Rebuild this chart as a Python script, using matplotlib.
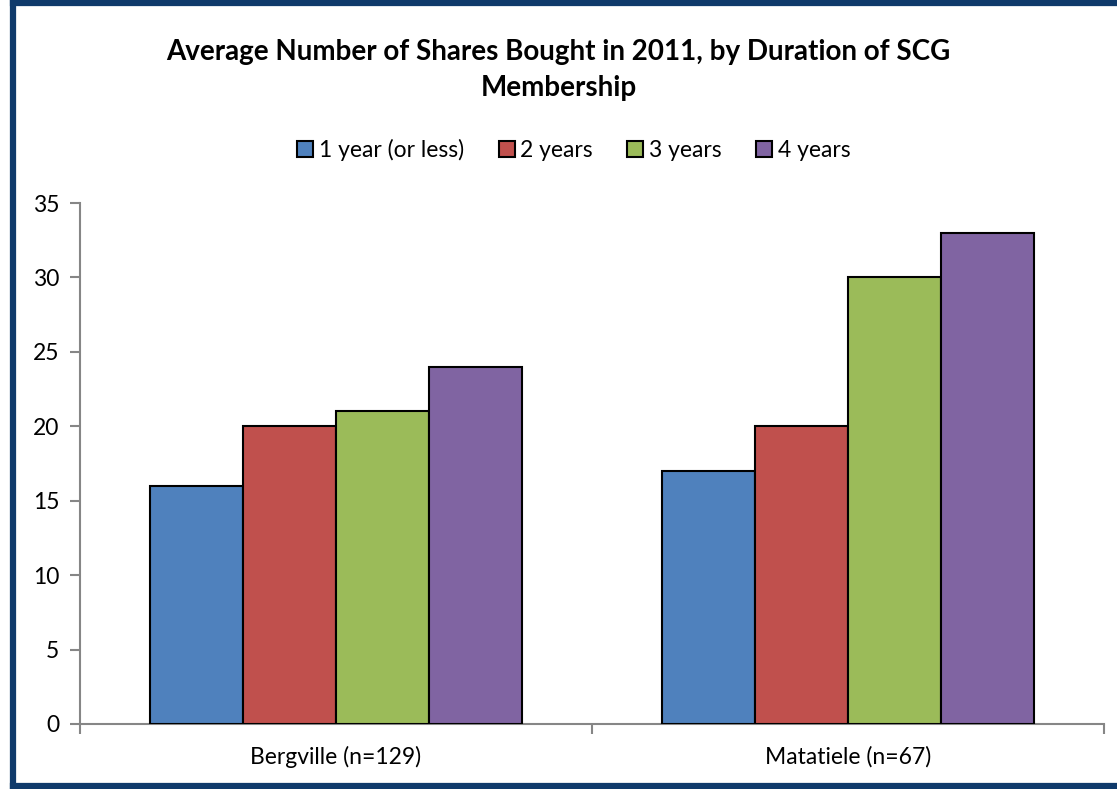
import numpy as np
from matplotlib import pyplot as plt
from matplotlib.lines import Line2D

plt.rcParams['font.family'] = ['Lato', 'DejaVu Sans']

sites = ['Bergville (n=129)', 'Matatiele (n=67)']
durations = ['1 year (or less)', '2 years', '3 years', '4 years']
shares = {
    '1 year (or less)': [16, 17],
    '2 years': [20, 20],
    '3 years': [21, 30],
    '4 years': [24, 33],
}
colors = ['#4F81BD', '#C0504D', '#9BBB59', '#8064A2']


def execute():
    fig = plt.figure(figsize=(11.17, 7.89), dpi=100)
    ax = fig.add_axes([80 / 1117, 1 - 724 / 789, 1024 / 1117, 521 / 789])

    x = np.arange(len(sites))
    width = 1 / 5.5
    for i, (name, color) in enumerate(zip(durations, colors)):
        ax.bar(x + (i - 1.5) * width, shares[name], width,
               color=color, edgecolor='black', linewidth=1.5,
               label=name, zorder=3)

    ax.set_xlim(-0.5, 1.5)
    ax.set_ylim(0, 35)
    ax.set_yticks(range(0, 36, 5))
    ax.set_xticks(x)
    ax.set_xticklabels(sites, fontsize=16.5)
    ax.set_xticks([-0.5, 0.5, 1.5], minor=True)
    ax.tick_params(axis='x', which='major', length=0, pad=16)
    ax.tick_params(axis='x', which='minor', length=7, width=1.5,
                   color='#868686', direction='out')
    ax.tick_params(axis='y', length=7, width=1.5, color='#868686',
                   labelsize=16.5, pad=8)
    for side in ['top', 'right']:
        ax.spines[side].set_visible(False)
    for side in ['left', 'bottom']:
        ax.spines[side].set_color('#868686')
        ax.spines[side].set_linewidth(1.5)

    fig.text(0.5, 1 - 52 / 789,
             'Average Number of Shares Bought in 2011, by Duration of SCG',
             ha='center', va='center', fontsize=20, fontweight='bold')
    fig.text(0.5, 1 - 88 / 789, 'Membership',
             ha='center', va='center', fontsize=20, fontweight='bold')

    fig.legend(loc='center', bbox_to_anchor=(574 / 1117, 1 - 150 / 789),
               ncol=4, frameon=False, fontsize=16.5, handlelength=0.7,
               handleheight=0.7, handletextpad=0.25, columnspacing=1.5)

    # dark blue frame (right edge falls outside the picture)
    border = dict(color='#0F3A6B', linewidth=4.5, transform=None,
                  solid_capstyle='projecting')
    fig.add_artist(Line2D([13, 13], [3, 786], **border))
    fig.add_artist(Line2D([13, 1117], [3, 3], **border))
    fig.add_artist(Line2D([13, 1117], [786, 786], **border))

    fig.savefig('out.png', dpi=100)


if __name__ == '__main__':
    execute()
